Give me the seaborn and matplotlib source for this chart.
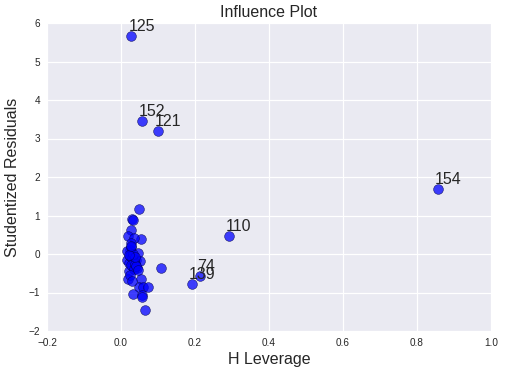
import matplotlib
matplotlib.use("Agg")
import matplotlib.pyplot as plt
import seaborn as sns
import pandas as pd

# Data (H leverage vs studentized residuals)
leverage = [0.028, 0.056, 0.099, 0.856, 0.291, 0.214, 0.191, 0.109,
            0.049, 0.031, 0.033, 0.026, 0.019, 0.053, 0.035, 0.026, 0.024,
            0.017, 0.046, 0.017, 0.022, 0.040, 0.052, 0.031, 0.044, 0.022,
            0.019, 0.053, 0.049, 0.060, 0.073, 0.033, 0.057, 0.058, 0.065,
            0.025, 0.030, 0.036, 0.028, 0.034, 0.038, 0.027, 0.032, 0.041,
            0.023, 0.029, 0.037, 0.045, 0.021, 0.026]
residuals = [5.66, 3.46, 3.20, 1.70, 0.46, -0.56, -0.78, -0.37,
             1.16, 0.92, 0.88, 0.62, 0.46, 0.39, 0.42, 0.29, 0.11,
             0.07, 0.03, -0.15, -0.23, -0.15, -0.19, -0.32, -0.37, -0.45,
             -0.64, -0.65, -0.86, -0.86, -0.86, -1.04, -1.06, -1.12, -1.45,
             -0.05, -0.10, -0.20, -0.28, -0.40, -0.25, 0.18, 0.00, -0.30,
             -0.55, -0.70, -0.08, -0.42, -0.02, 0.22]
point_labels = ["125", "152", "121", "154", "110", "74", "139"]

title = "Influence Plot"
xlabel = "H Leverage"
ylabel = "Studentized Residuals"

df = pd.DataFrame({"leverage": leverage, "resid": residuals})

sns.set_style("darkgrid")
plt.rcParams["font.family"] = ["Liberation Sans", "DejaVu Sans"]

fig = plt.figure(figsize=(506 / 72, 374 / 72), dpi=72)
ax = fig.add_axes([47 / 506, 1 - 331 / 374, (491 - 47) / 506, (331 - 23) / 374])

sns.scatterplot(data=df, x="leverage", y="resid", ax=ax, color=(0, 0, 1),
                alpha=0.75, s=95, edgecolor=(0, 0, 0.3), linewidth=0.6, legend=False)

for i, lab in enumerate(point_labels):
    ax.annotate(lab, xy=(leverage[i], residuals[i]), xytext=(-3, 2),
                textcoords="offset points", ha="left", va="bottom",
                fontsize=16, color="#262626")

ax.set_xlim(-0.2, 1.0)
ax.set_ylim(-2, 6)
ax.set_xticks([-0.2, 0.0, 0.2, 0.4, 0.6, 0.8, 1.0])
ax.set_yticks(range(-2, 7))
ax.tick_params(axis="both", labelsize=10, length=0, pad=7, labelcolor="#262626")
ax.grid(True, color="white", linewidth=1.2)
ax.set_title(title, fontsize=16, color="#262626", pad=6)
ax.set_xlabel(xlabel, fontsize=16, color="#262626", labelpad=4)
ax.set_ylabel(ylabel, fontsize=16, color="#262626", labelpad=8)
for s in ax.spines.values():
    s.set_visible(False)

fig.savefig("out.png", dpi=72)
